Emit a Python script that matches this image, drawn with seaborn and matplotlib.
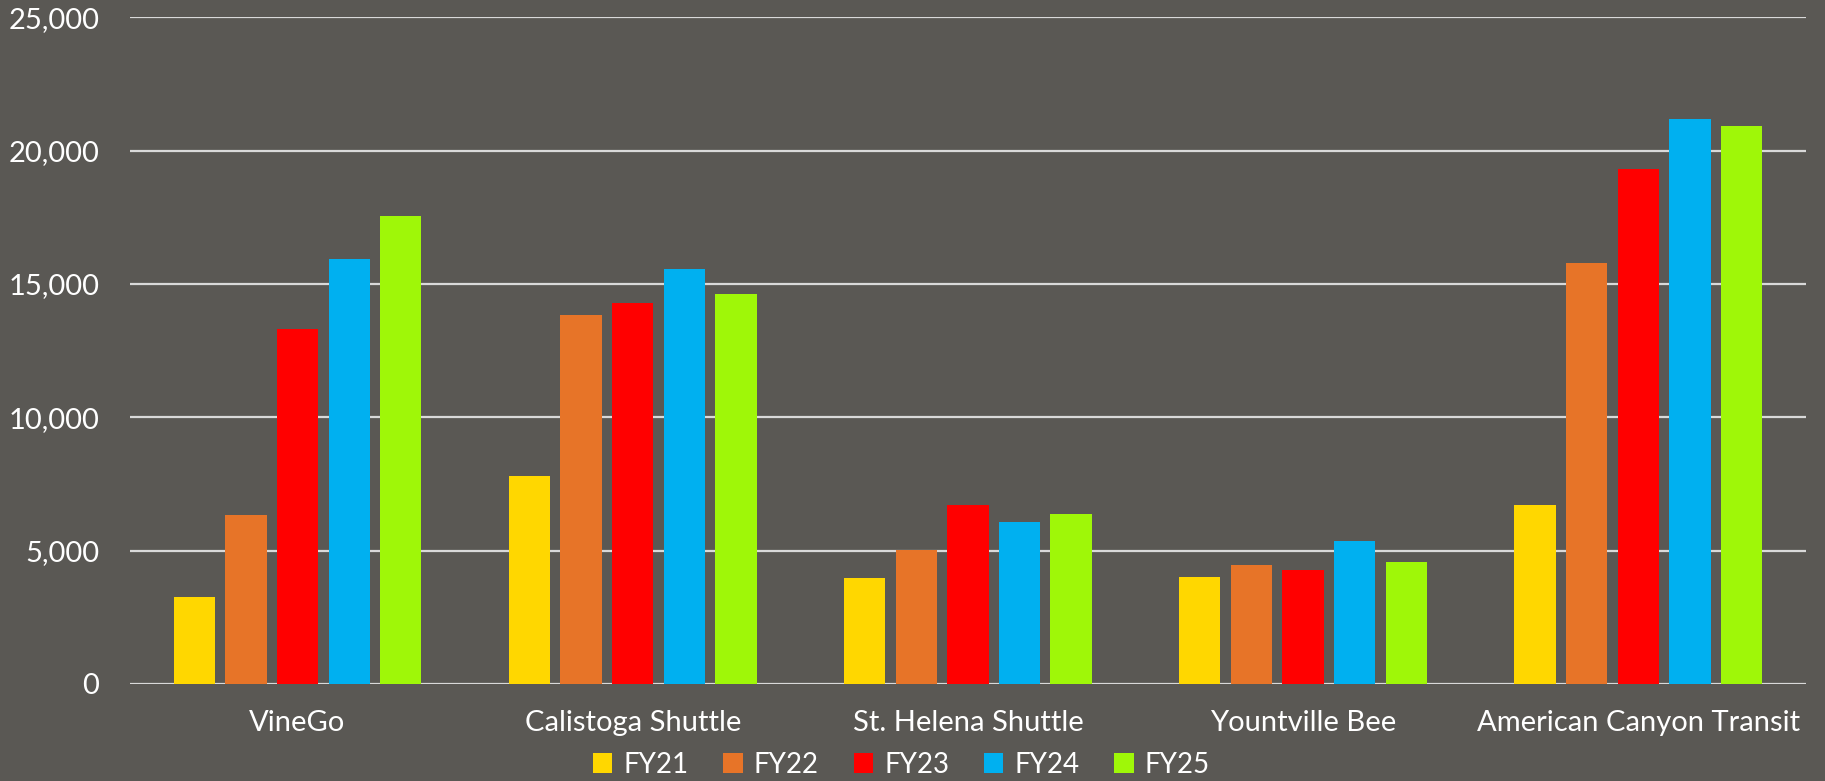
import matplotlib
matplotlib.use("Agg")
import matplotlib.pyplot as plt
import seaborn as sns
import pandas as pd

services = ["VineGo", "Calistoga Shuttle", "St. Helena Shuttle",
            "Yountville Bee", "American Canyon Transit"]
years = ["FY21", "FY22", "FY23", "FY24", "FY25"]
fy21 = [3280, 7800, 3970, 4030, 6720]
fy22 = [6330, 13840, 5040, 4480, 15780]
fy23 = [13300, 14290, 6720, 4290, 19310]
fy24 = [15950, 15560, 6060, 5350, 21180]
fy25 = [17560, 14610, 6360, 4590, 20930]
colors = ["#FFD700", "#E77428", "#FF0000", "#00B0F0", "#9FF708"]

rows = []
for yr, vals in zip(years, [fy21, fy22, fy23, fy24, fy25]):
    for s, v in zip(services, vals):
        rows.append({"service": s, "year": yr, "riders": v})
df = pd.DataFrame(rows)

bg = "#5A5854"
sns.set_style("white")
plt.rcParams["font.family"] = ["Lato", "DejaVu Sans"]

fig = plt.figure(figsize=(18.25, 7.81), dpi=100, facecolor=bg)
ax = fig.add_axes([0.0712, 0.1242, 0.9183, 0.8538])
ax.set_facecolor(bg)

sns.barplot(data=df, x="service", y="riders", hue="year", order=services,
            hue_order=years, palette=colors, width=0.77, gap=0.2,
            saturation=1, linewidth=0, edgecolor="none", ax=ax, zorder=3)

ax.set_ylim(0, 25000)
ax.set_yticks(range(0, 25001, 5000))
ax.set_yticklabels([f"{v:,}" for v in range(0, 25001, 5000)])
ax.yaxis.grid(True, color="#D9D9D9", linewidth=1.6, zorder=0)
ax.set_axisbelow(True)
for sp in ax.spines.values():
    sp.set_visible(False)
ax.tick_params(axis="both", length=0, colors="white", labelsize=21)
ax.tick_params(axis="y", pad=22)
ax.tick_params(axis="x", pad=19)
ax.set_xlabel("")
ax.set_ylabel("")
ax.set_xlim(-0.5, 4.5)

handles, labels = ax.get_legend_handles_labels()
ax.get_legend().remove()
leg = fig.legend(handles, labels, loc="lower center", bbox_to_anchor=(0.494, -0.028),
                 ncol=5, frameon=False, fontsize=20, handlelength=0.7,
                 handleheight=0.7, handletextpad=0.4, columnspacing=1.25,
                 labelcolor="white")
for h in leg.legend_handles:
    h.set_linewidth(0)

fig.savefig("out.png", dpi=100, facecolor=bg)
